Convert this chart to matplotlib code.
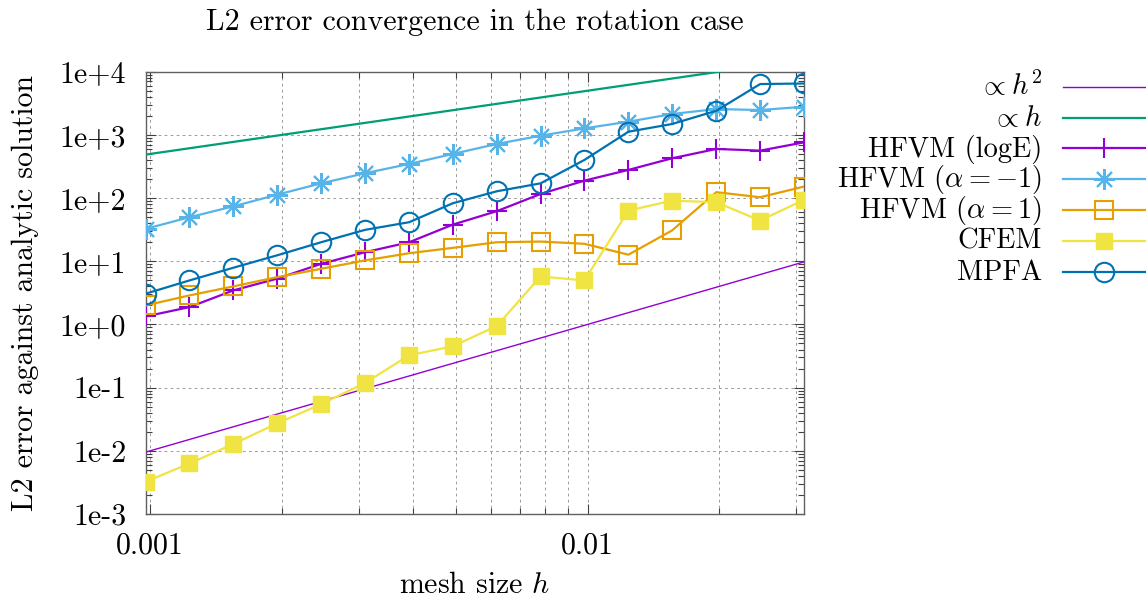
import matplotlib
matplotlib.use("Agg")
import matplotlib.pyplot as plt
from matplotlib.lines import Line2D
from matplotlib.ticker import FixedLocator, NullFormatter, LogLocator

plt.rcParams["font.family"] = "serif"
plt.rcParams["font.serif"] = ["cmr10"]
plt.rcParams["mathtext.fontset"] = "cm"
plt.rcParams["axes.unicode_minus"] = False
plt.rcParams["axes.formatter.use_mathtext"] = True

# ---------------- data ----------------
h = [0.000977, 0.00123, 0.00155, 0.00195, 0.00246, 0.00310, 0.00391, 0.00492,
     0.00620, 0.00781, 0.00984, 0.0124, 0.0156, 0.0197, 0.0248, 0.03125]

hfvm_loge = [1.34, 1.88, 3.46, 5.3, 9.1, 13.9, 20, 38,
             62, 116, 189, 279, 426, 599, 563, 762]
hfvm_am1 = [32.6, 49.7, 74, 113, 171, 247, 347, 499,
            718, 971, 1268, 1618, 2138, 2565, 2474, 2789]
hfvm_a1 = [2.0, 2.88, 4.0, 5.6, 7.6, 10.3, 13.4, 16.3,
           20, 20.5, 18.9, 12.7, 30.7, 124, 103, 152]
cfem = [0.00324, 0.0063, 0.0128, 0.0271, 0.0547, 0.1186, 0.325, 0.451,
        0.944, 5.75, 4.97, 63.5, 91, 86, 44, 94]
mpfa = [3.07, 4.97, 7.9, 12.4, 20, 31.4, 41.5, 82.8,
        128, 171, 402, 1122, 1486, 2410, 6370, 6510]

# reference slopes (end points)
ref2_h = [0.000977, 0.03125]
ref2_e = [0.00954, 9.77]
ref1_h = [0.000977, 0.03125]
ref1_e = [488, 15625]

yticks = [1e-3, 1e-2, 1e-1, 1e0, 1e1, 1e2, 1e3, 1e4]
ytick_labels = ["1e-3", "1e-2", "1e-1", "1e+0", "1e+1", "1e+2", "1e+3", "1e+4"]
xticks = [0.001, 0.01]
xtick_labels = ["0.001", "0.01"]

labels = [r"$\propto h^2$", r"$\propto h$", "HFVM (logE)",
          r"HFVM ($\alpha=-1$)", r"HFVM ($\alpha=1$)", "CFEM", "MPFA"]

# colours (gnuplot default palette)
c_purple = "#9400D3"
c_green = "#009E73"
c_lblue = "#56B4E9"
c_orange = "#E69F00"
c_yellow = "#F0E442"
c_blue = "#0072B2"

FS = 21.5
FS_LEG = 20.5

fig = plt.figure(figsize=(11.46, 5.99), dpi=100)
ax = fig.add_axes([145.7 / 1146, 1 - 514 / 599, (804 - 145.7) / 1146, (514 - 71.7) / 599])

ax.set_xscale("log")
ax.set_yscale("log")

star = (8, 2, 0)
styles = [
    dict(color=c_purple, lw=1.0),
    dict(color=c_green, lw=1.6),
    dict(color=c_purple, lw=1.6, marker="+", ms=14, mew=1.5),
    dict(color=c_lblue, lw=1.6, marker=star, ms=15, mew=1.5),
    dict(color=c_orange, lw=1.6, marker="s", ms=13, mew=1.5, mfc="none"),
    dict(color=c_yellow, lw=1.6, marker="s", ms=12, mew=1.0, mfc=c_yellow),
    dict(color=c_blue, lw=1.6, marker="o", ms=14, mew=1.5, mfc="none"),
]
series = [(ref2_h, ref2_e), (ref1_h, ref1_e), (h, hfvm_loge), (h, hfvm_am1),
          (h, hfvm_a1), (h, cfem), (h, mpfa)]

for (xs, ys), st in zip(series, styles):
    ax.plot(xs, ys, clip_on=True, zorder=3, **st)

ax.set_xlim(0.000977, 0.03125)
ax.set_ylim(1e-3, 1e4)

ax.yaxis.set_major_locator(FixedLocator(yticks))
ax.set_yticklabels(ytick_labels)
ax.yaxis.set_minor_locator(LogLocator(base=10, subs=range(2, 10), numticks=50))
ax.yaxis.set_minor_formatter(NullFormatter())

ax.xaxis.set_major_locator(FixedLocator(xticks))
ax.set_xticklabels(xtick_labels)
ax.xaxis.set_minor_locator(LogLocator(base=10, subs=range(2, 10), numticks=50))
ax.xaxis.set_minor_formatter(NullFormatter())

ax.tick_params(which="both", direction="in", top=True, right=True,
               color="#404040", width=0.8)
ax.tick_params(which="major", length=7, labelsize=FS)
ax.tick_params(axis="y", which="major", pad=14)
ax.tick_params(axis="x", which="major", pad=13)
ax.tick_params(which="minor", length=4)

grid_kw = dict(color="#999999", lw=0.7, dashes=(2.8, 3.4))
ax.grid(True, axis="y", which="major", **grid_kw)
ax.grid(True, axis="x", which="both", **grid_kw)

for sp in ax.spines.values():
    sp.set_color("#606060")
    sp.set_linewidth(1.0)

ax.set_title("L2 error convergence in the rotation case", fontsize=FS, pad=30)
ax.set_xlabel(r"mesh size $h$", fontsize=FS, labelpad=9)
ax.set_ylabel("L2 error against analytic solution", fontsize=FS, labelpad=15)

# legend (right of plot, text right-aligned before the sample)
row0 = 86.7
drow = 30.8
for i, (lab, st) in enumerate(zip(labels, styles)):
    yc = 1 - (row0 + i * drow) / 599
    yb = 1 - (row0 + i * drow + 8.2) / 599
    fig.text(1042 / 1146, yb, lab, ha="right", va="baseline", fontsize=FS_LEG)
    fig.add_artist(Line2D([1063 / 1146, 1.0], [yc, yc], transform=fig.transFigure,
                          color=st["color"], lw=st["lw"]))
    if "marker" in st:
        mk = {k: st[k] for k in ("marker", "ms", "mew", "mfc") if k in st}
        fig.add_artist(Line2D([1104 / 1146], [yc], transform=fig.transFigure,
                              color=st["color"], lw=0, **mk))

fig.savefig("out.png", dpi=100)
